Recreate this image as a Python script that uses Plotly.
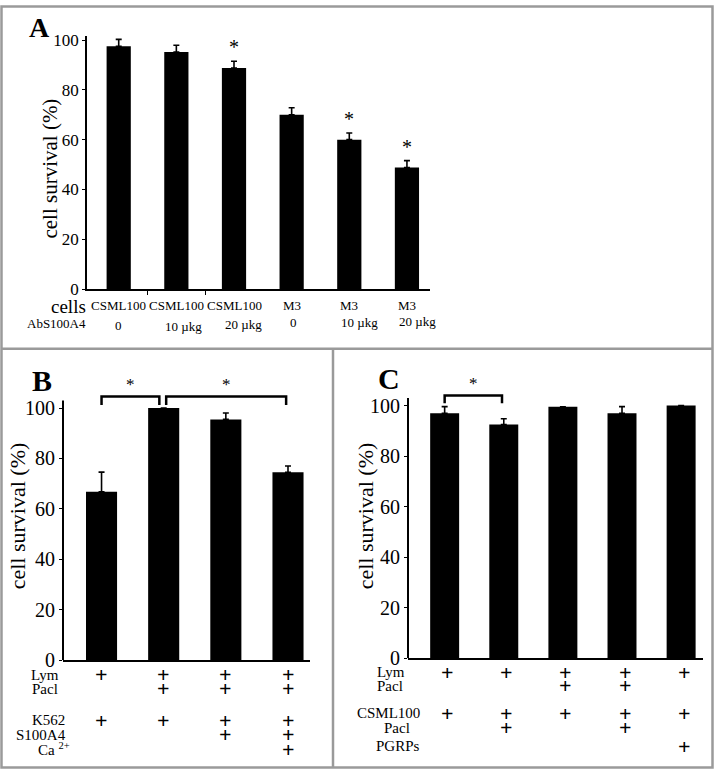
import plotly.graph_objects as go

# ---------------- data ----------------
A_cells = ["CSML100", "CSML100", "CSML100", "M3", "M3", "M3"]
A_dose = ["0", "10 µkg", "20 µkg", "0", "10 µkg", "20 µkg"]
A_values = [97.5, 95.2, 88.8, 70.0, 60.0, 48.8]
A_err = [2.8, 2.7, 2.7, 2.8, 2.7, 2.8]
A_sig = [False, False, True, False, True, True]

B_values = [66.8, 100.0, 95.5, 74.5]
B_err = [7.8, 0.0, 2.5, 2.5]
B_rows = ["Lym", "Pacl", "K562", "S100A4", "Ca <sup>2+</sup>"]
B_matrix = [
    [1, 1, 1, 1],
    [0, 1, 1, 1],
    [1, 1, 1, 1],
    [0, 0, 1, 1],
    [0, 0, 0, 1],
]
B_pairs = [(0, 1), (1, 3)]

C_values = [97.0, 92.5, 99.5, 97.0, 100.0]
C_err = [2.6, 2.3, 0.0, 2.6, 0.0]
C_rows = ["Lym", "Pacl", "CSML100", "Pacl", "PGRPs"]
C_matrix = [
    [1, 1, 1, 1, 1],
    [0, 0, 1, 1, 0],
    [1, 1, 1, 1, 1],
    [0, 1, 0, 1, 0],
    [0, 0, 0, 0, 1],
]
C_pairs = [(0, 1)]

y_ticks = [0, 20, 40, 60, 80, 100]
y_title = "cell survival (%)"

# ---------------- layout helpers ----------------
W, H = 715, 781
FONT = "Liberation Serif"


def px(x):
    return x / W


def py(y):
    return 1 - y / H


# pixel geometry of the value axes: (pixel of 0, pixel of top, top value)
GEOM = {
    "y": (290, 32, 101.5),
    "y2": (669, 396, 106),
    "y3": (667, 393.5, 106),
}

fig = go.Figure()


def add_bars(vals, err, xa, ya, width):
    n = len(vals)
    fig.add_trace(go.Bar(
        x=list(range(n)), y=vals, width=width,
        marker=dict(color="black", line=dict(width=0)),
        error_y=dict(type="data", symmetric=False, array=err,
                     arrayminus=[0] * n, color="black", thickness=1.6, width=3),
        xaxis=xa, yaxis=ya, showlegend=False, hoverinfo="skip",
    ))


add_bars(A_values, A_err, "x", "y", 0.42)
add_bars(B_values, B_err, "x2", "y2", 0.50)
add_bars(C_values, C_err, "x3", "y3", 0.49)

axis_common = dict(showgrid=False, zeroline=False, linecolor="black",
                   tickcolor="black")

fig.update_layout(
    width=W, height=H, margin=dict(l=0, r=0, t=0, b=0),
    paper_bgcolor="white", plot_bgcolor="white",
    font=dict(family=FONT, color="black"),
    showlegend=False,
    xaxis=dict(domain=[px(87), px(430)], range=[-0.55, 5.4], anchor="y",
               showline=True, linewidth=1.5, tickvals=[0.5, 1.5],
               ticks="outside", ticklen=4, showticklabels=False, **axis_common),
    yaxis=dict(domain=[py(GEOM["y"][0]), py(GEOM["y"][1])], range=[0, GEOM["y"][2]],
               anchor="x", showline=True, linewidth=1.5, tickvals=y_ticks,
               ticks="outside", ticklen=3, tickfont=dict(size=17, family=FONT),
               **axis_common),
    xaxis2=dict(domain=[px(63), px(310)], range=[-0.62, 3.354], anchor="y2",
                showline=True, linewidth=2, showticklabels=False, ticks="",
                **axis_common),
    yaxis2=dict(domain=[py(GEOM["y2"][0]), py(GEOM["y2"][1])], range=[0, GEOM["y2"][2]],
                anchor="x2", showline=False, tickvals=y_ticks, ticks="outside",
                ticklen=3, tickfont=dict(size=20, family=FONT), **axis_common),
    xaxis3=dict(domain=[px(408), px(703)], range=[-0.62, 4.37], anchor="y3",
                showline=True, linewidth=2, showticklabels=False, ticks="",
                **axis_common),
    yaxis3=dict(domain=[py(GEOM["y3"][0]), py(GEOM["y3"][1])], range=[0, GEOM["y3"][2]],
                anchor="x3", showline=False, tickvals=y_ticks, ticks="outside",
                ticklen=3, tickfont=dict(size=20, family=FONT), **axis_common),
)

shapes = []
ann = []

# y axis lines for B and C (stop just above 100)
for xr, yr in [("x2 domain", "y2"), ("x3 domain", "y3")]:
    shapes.append(dict(type="line", xref=xr, yref=yr, x0=0, x1=0, y0=0, y1=103,
                       line=dict(color="black", width=2)))

# panel frames
frame = dict(color="#9a9a9a", width=2.5)
shapes.append(dict(type="rect", xref="paper", yref="paper", x0=px(1.5), x1=px(712.5),
                   y0=py(778.5), y1=py(1.5), line=frame))
shapes.append(dict(type="line", xref="paper", yref="paper", x0=px(1), x1=px(713),
                   y0=py(351), y1=py(351), line=frame))
shapes.append(dict(type="line", xref="paper", yref="paper", x0=px(333), x1=px(333),
                   y0=py(351), y1=py(779), line=frame))


# brackets (significance) for B and C
def add_brackets(pairs, xa, ya, top, leg):
    starts = {a for a, b in pairs}
    ends = {b for a, b in pairs}
    for a, b in pairs:
        x0 = a + (0.04 if a in ends else 0.0)
        x1 = b - (0.07 if b in starts else 0.03)
        fig.add_trace(go.Scatter(x=[x0, x0, x1, x1], y=[leg, top, top, leg],
                                 mode="lines", line=dict(color="black", width=2.5),
                                 xaxis=xa, yaxis=ya, showlegend=False,
                                 hoverinfo="skip"))
        ann.append(dict(x=(x0 + x1) / 2, y=top, xref=xa, yref=ya, text="*",
                        showarrow=False, yanchor="bottom", yshift=0,
                        font=dict(size=17, family=FONT)))


add_brackets(B_pairs, "x2", "y2", 104.6, 101.2)
add_brackets(C_pairs, "x3", "y3", 104.0, 100.9)

# stars in A
for i, (v, e, s) in enumerate(zip(A_values, A_err, A_sig)):
    if s:
        ann.append(dict(x=i, y=v + e, xref="x", yref="y", text="*",
                        showarrow=False, yanchor="bottom", yshift=1,
                        font=dict(size=20, family=FONT)))

# panel letters
for letter, x, y, size in [("A", 39, 23, 28), ("B", 42, 383, 30), ("C", 389, 381, 30)]:
    ann.append(dict(x=px(x), y=py(y), xref="paper", yref="paper",
                    text="<b>%s</b>" % letter, showarrow=False,
                    xanchor="center", yanchor="middle",
                    font=dict(size=size, family=FONT)))

# y axis titles
for x, y, size in [(50, 167, 21), (17, 522, 22), (365, 522, 22)]:
    ann.append(dict(x=px(x), y=py(y), xref="paper", yref="paper", text=y_title,
                    textangle=-90, showarrow=False, xanchor="center",
                    yanchor="middle", font=dict(size=size, family=FONT)))

# A category labels
ann.append(dict(x=px(88), y=py(308), xref="paper", yref="paper", text="cells",
                showarrow=False, xanchor="right", yanchor="middle",
                font=dict(size=19, family=FONT)))
ann.append(dict(x=px(88), y=py(325), xref="paper", yref="paper", text="AbS100A4",
                showarrow=False, xanchor="right", yanchor="middle",
                font=dict(size=13, family=FONT)))
A_dx = [0, 7, 9, 2, 10, 11]
A_dy = [-2, -3, -1, 1, 1, 2]
for i, (c, d) in enumerate(zip(A_cells, A_dose)):
    ann.append(dict(x=i, y=py(307), xref="x", yref="paper", text=c,
                    showarrow=False, xanchor="center", yanchor="middle",
                    font=dict(size=13, family=FONT)))
    ann.append(dict(x=i, y=py(325), xref="x", yref="paper", text=d,
                    showarrow=False, xanchor="center", yanchor="middle",
                    xshift=A_dx[i], yshift=A_dy[i],
                    font=dict(size=13, family=FONT)))


# condition tables for B and C
def add_table(rows, matrix, xa, row_y, label_x, plus_dx):
    for r, (name, flags) in enumerate(zip(rows, matrix)):
        ann.append(dict(x=px(label_x[r]), y=py(row_y[r]), xref="paper", yref="paper",
                        text=name, showarrow=False, xanchor="right",
                        yanchor="middle", font=dict(size=15, family=FONT)))
        for i, f in enumerate(flags):
            if f:
                ann.append(dict(x=i, y=py(row_y[r]), xref=xa, yref="paper",
                                text="<b>+</b>", showarrow=False, xanchor="center",
                                yanchor="middle", xshift=plus_dx,
                                font=dict(size=22, family=FONT)))


add_table(B_rows, B_matrix, "x2", [684, 698, 730, 745, 760],
          [61, 60, 67, 68, 72], 0)
add_table(C_rows, C_matrix, "x3", [681, 695, 723, 738, 757],
          [407, 405, 422, 412, 422], 3)

fig.update_layout(shapes=shapes, annotations=ann)

fig.write_html("out.html", config={"displayModeBar": False},
               post_script="document.body.style.margin='0px';")
